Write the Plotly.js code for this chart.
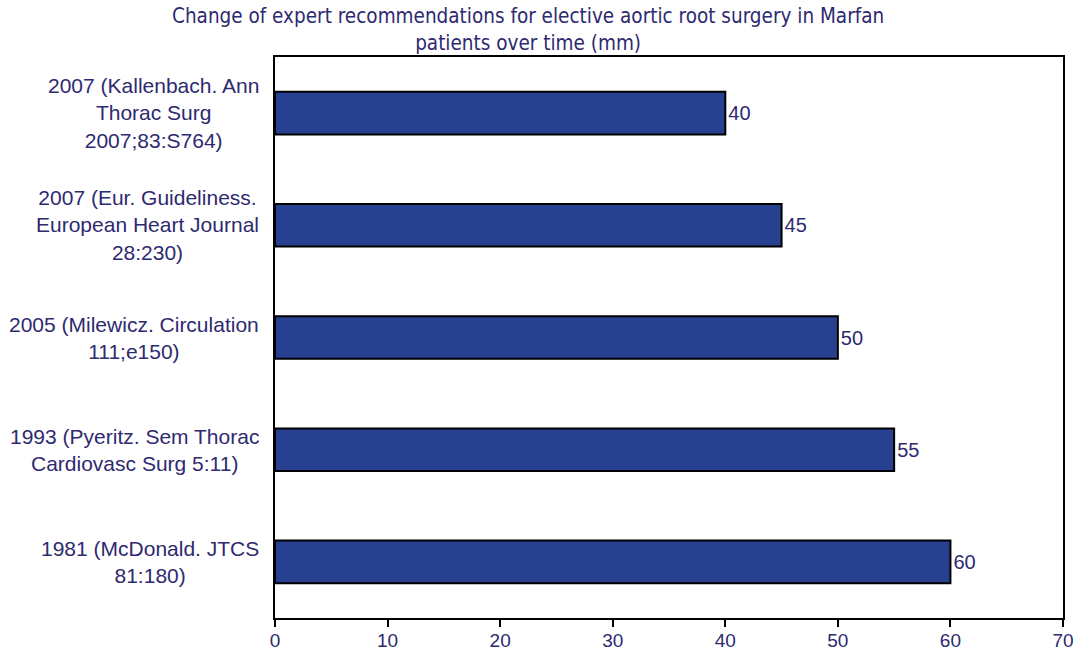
<!DOCTYPE html>
<html>
<head>
<meta charset="utf-8">
<script src="https://cdn.plot.ly/plotly-3.0.1.min.js"></script>
<style>html,body{margin:0;padding:0;background:#fff}#chart{width:1083px;height:653px}</style>
</head>
<body>
<div id="chart"></div>
<script>
const categories = [
  "2007 (Kallenbach. Ann<br>Thorac Surg<br>2007;83:S764)",
  "2007 (Eur. Guideliness.<br>European Heart Journal<br>28:230)",
  "2005 (Milewicz. Circulation<br>111;e150)",
  "1993 (Pyeritz. Sem Thorac<br>Cardiovasc Surg 5:11)",
  "1981 (McDonald. JTCS<br>81:180)"
];
const values = [40, 45, 50, 55, 60];
const xTicks = [0, 10, 20, 30, 40, 50, 60, 70];
const titleText = "Change of expert recommendations for elective aortic root surgery in Marfan<br>patients over time (mm)";

const txtColor = "#2E2A70";
const font = "Liberation Sans, Arial, sans-serif";

const trace = {
  type: "bar",
  orientation: "h",
  y: categories,
  x: values,
  width: 0.38,
  marker: {color: "#27408F", line: {color: "#000", width: 2}},
  text: values.map(String),
  textposition: "outside",
  textfont: {family: font, size: 20, color: txtColor},
  cliponaxis: false,
  hoverinfo: "none"
};

const annotations = categories.map(c => ({
  xref: "paper", yref: "y", x: 0, y: c, text: c,
  xanchor: "right", yanchor: "middle", xshift: -14, align: "center",
  showarrow: false,
  font: {family: font, size: 21, color: txtColor}
}));

annotations.push({
  xref: "paper", yref: "paper", x: (528 - 275) / (1063 - 275), y: 1,
  xanchor: "center", yanchor: "bottom", yshift: 0, align: "center",
  showarrow: false, text: titleText,
  font: {family: "DejaVu Sans Condensed, Liberation Sans Narrow, sans-serif", size: 20.5, color: txtColor}
});

const layout = {
  width: 1083, height: 653,
  margin: {l: 275, r: 20, t: 57, b: 35},
  paper_bgcolor: "#fff", plot_bgcolor: "#fff",
  showlegend: false,
  xaxis: {
    range: [0, 70],
    tickvals: xTicks, ticktext: xTicks.map(String),
    ticks: "outside", ticklen: 7, tickwidth: 2, tickcolor: "#000",
    ticklabelstandoff: -3,
    showline: true, linecolor: "#000", linewidth: 2, mirror: true,
    showgrid: false, zeroline: false,
    tickfont: {family: font, size: 19, color: txtColor}
  },
  yaxis: {
    type: "category",
    range: [4.5, -0.5],
    showticklabels: false, ticks: "",
    showline: true, linecolor: "#000", linewidth: 2, mirror: true,
    showgrid: false, zeroline: false
  },
  annotations: annotations
};

Plotly.newPlot("chart", [trace], layout, {displayModeBar: false, staticPlot: true});
</script>
</body>
</html>
